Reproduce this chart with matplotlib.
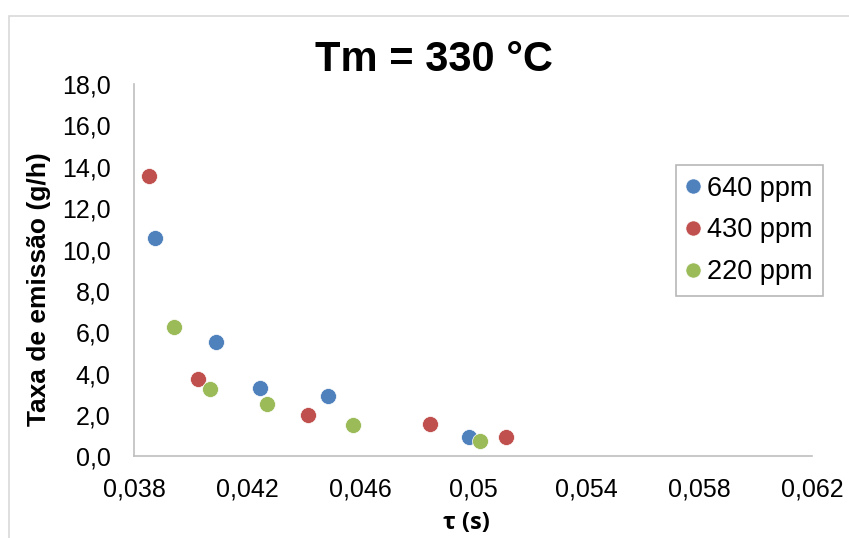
import matplotlib.pyplot as plt
from matplotlib.patches import Rectangle
from matplotlib.ticker import FuncFormatter

plt.rcParams['font.family'] = ['Liberation Sans', 'DejaVu Sans']

# tau (s) and emission rate (g/h) per concentration
tau_640 = [0.03873, 0.04089, 0.04245, 0.04486, 0.04984]
taxa_640 = [10.58, 5.52, 3.31, 2.92, 0.96]
tau_430 = [0.03853, 0.04027, 0.04414, 0.04846, 0.05118]
taxa_430 = [13.56, 3.76, 1.99, 1.56, 0.96]
tau_220 = [0.03942, 0.04068, 0.04269, 0.04575, 0.05025]
taxa_220 = [6.26, 3.25, 2.52, 1.54, 0.75]

series = [
    ("640 ppm", tau_640, taxa_640, "#4F81BD"),
    ("430 ppm", tau_430, taxa_430, "#C0504D"),
    ("220 ppm", tau_220, taxa_220, "#9BBB59"),
]

x_ticks = [0.038, 0.042, 0.046, 0.05, 0.054, 0.058, 0.062]
x_tick_labels = ["0,038", "0,042", "0,046", "0,05", "0,054", "0,058", "0,062"]

fig = plt.figure(figsize=(8.49, 5.38), dpi=100)
ax = fig.add_axes([0.158, 0.1515, 0.7986, 0.6924])

# chart area frame (top and left edges visible)
fig.patches.append(Rectangle((0.0105, -0.05), 1.1, 1.02, transform=fig.transFigure,
                             fill=False, edgecolor="#D9D9D9", linewidth=1.2))

for label, x, y, color in series:
    ax.plot(x, y, linestyle="none", marker="o", markersize=11.5, color=color,
            markeredgecolor="white", markeredgewidth=0.5, label=label)

ax.set_xlim(0.038, 0.062)
ax.set_ylim(0, 18)
ax.set_xticks(x_ticks)
ax.set_xticklabels(x_tick_labels)
ax.set_yticks(range(0, 19, 2))
ax.yaxis.set_major_formatter(FuncFormatter(lambda v, p: f"{v:.1f}".replace(".", ",")))
ax.tick_params(length=0, labelsize=18)
ax.tick_params(axis="y", pad=17)
ax.tick_params(axis="x", pad=15)

for side in ["top", "right"]:
    ax.spines[side].set_visible(False)
for side in ["left", "bottom"]:
    ax.spines[side].set_color("#BFBFBF")
    ax.spines[side].set_linewidth(1.2)

ax.set_xlabel("τ (s)", fontsize=17, fontweight="bold", family=["Open Sans", "DejaVu Sans"])
ax.xaxis.set_label_coords(0.49, -0.147)
ax.set_ylabel("Taxa de emissão (g/h)", fontsize=19, fontweight="bold")
ax.yaxis.set_label_coords(-0.123, 0.45)
fig.text(0.511, 0.888, "Tm = 330 °C", fontsize=30, fontweight="bold", ha="center", va="center")

leg = ax.legend(loc="upper left", bbox_to_anchor=(0.799, 0.783), fontsize=19.5, frameon=True,
                fancybox=False, handlelength=0.5, handletextpad=0.25, borderpad=0.4,
                labelspacing=0.58, borderaxespad=0, markerscale=0.95)
leg.get_frame().set_edgecolor("#A6A6A6")
leg.get_frame().set_linewidth(1.2)

fig.savefig("out.png", dpi=100)
